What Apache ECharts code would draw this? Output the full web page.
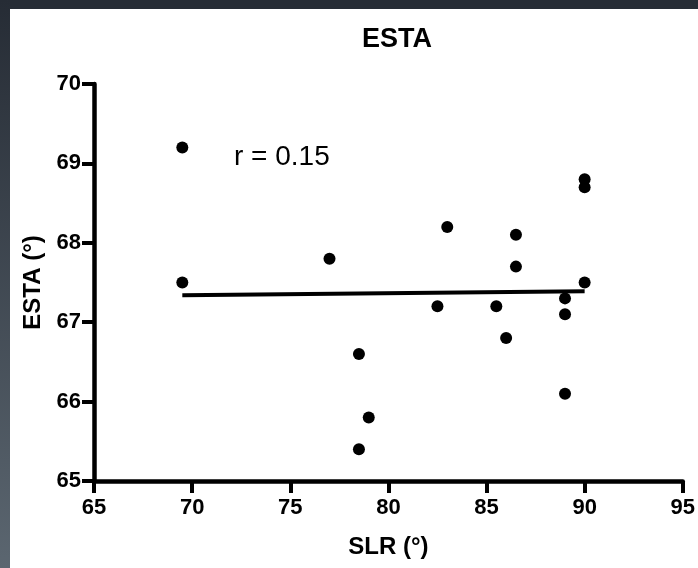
<!DOCTYPE html>
<html>
<head>
<meta charset="utf-8">
<script src="https://cdn.jsdelivr.net/npm/echarts@6/dist/echarts.min.js"></script>
<style>
html,body{margin:0;padding:0;background:#fff;}
#chart{width:698px;height:568px;}
</style>
</head>
<body>
<div id="chart"></div>
<script>
// Data
var slrValues  = [69.5, 69.5, 77.0, 78.5, 79.0, 78.5, 83.0, 86.5, 86.5, 90.0, 90.0, 90.0, 89.0, 89.0, 82.5, 85.5, 86.0, 89.0];
var estaValues = [69.2, 67.5, 67.8, 66.6, 65.8, 65.4, 68.2, 68.1, 67.7, 68.8, 68.7, 67.5, 67.3, 67.1, 67.2, 67.2, 66.8, 66.1];
var fitX = [69.5, 90.0];
var fitY = [67.34, 67.39];
var xTicks = [65, 70, 75, 80, 85, 90, 95];
var yTicks = [65, 66, 67, 68, 69, 70];
var titleText = 'ESTA';
var xName = 'SLR (\u00B0)';
var yName = 'ESTA (\u00B0)';
var rText = 'r = 0.15';

var points = slrValues.map(function (x, i) { return [x, estaValues[i]]; });
var fitLine = fitX.map(function (x, i) { return [x, fitY[i]]; });

var chart = echarts.init(document.getElementById('chart'), null, {renderer: 'canvas'});
var font = 'Liberation Sans, Arial, Helvetica, sans-serif';
chart.setOption({
  backgroundColor: '#ffffff',
  animation: false,
  title: {
    text: titleText,
    left: 392,
    top: 21,
    textAlign: 'center',
    textStyle: {fontFamily: font, fontSize: 27, fontWeight: 'bold', color: '#000'}
  },
  grid: {left: 94, right: 10, top: 84, bottom: 87, containLabel: false},
  xAxis: {
    type: 'value',
    min: xTicks[0], max: xTicks[xTicks.length - 1], interval: 5,
    name: xName, nameLocation: 'middle', nameGap: 54,
    nameTextStyle: {fontFamily: font, fontSize: 24, fontWeight: 'bold', color: '#000'},
    axisLine: {show: true, lineStyle: {color: '#000', width: 4.5}},
    axisTick: {show: true, length: 12, lineStyle: {color: '#000', width: 4}},
    axisLabel: {margin: 16, fontFamily: font, fontSize: 22, fontWeight: 'bold', color: '#000'},
    splitLine: {show: false}
  },
  yAxis: {
    type: 'value',
    min: yTicks[0], max: yTicks[yTicks.length - 1], interval: 1,
    name: yName, nameLocation: 'middle', nameGap: 49, nameRotate: 90,
    nameTextStyle: {fontFamily: font, fontSize: 24, fontWeight: 'bold', color: '#000'},
    axisLine: {show: true, lineStyle: {color: '#000', width: 4.5}},
    axisTick: {show: true, length: 12, lineStyle: {color: '#000', width: 4}},
    axisLabel: {margin: 13, fontFamily: font, fontSize: 22, fontWeight: 'bold', color: '#000'},
    splitLine: {show: false}
  },
  series: [
    {
      type: 'scatter',
      data: points,
      symbol: 'circle',
      symbolSize: 12,
      itemStyle: {color: '#000', opacity: 1},
      z: 3
    },
    {
      type: 'line',
      data: fitLine,
      showSymbol: false,
      symbol: 'none',
      lineStyle: {color: '#000', width: 4},
      z: 2
    }
  ],
  graphic: [
    {type: 'rect', left: 0, top: 0, z: 100, shape: {width: 698, height: 9},
     style: {fill: '#262c35'}},
    {type: 'rect', left: 0, top: 0, z: 100, shape: {width: 10, height: 568},
     style: {fill: new echarts.graphic.LinearGradient(0, 0, 0, 1, [
       {offset: 0, color: '#262c35'}, {offset: 1, color: '#5b6670'}])}},
    {type: 'text', left: 234, top: 143, z: 50,
     style: {text: rText, fill: '#000', font: 'normal 28px ' + font}}
  ]
});
</script>
</body>
</html>
